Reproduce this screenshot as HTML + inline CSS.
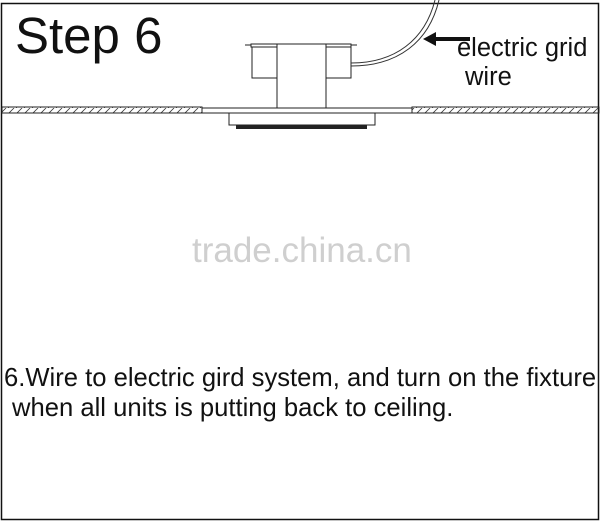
<!DOCTYPE html>
<html><head><style>
html,body{margin:0;padding:0;background:#fff;}
body{width:603px;height:525px;overflow:hidden;position:relative;font-family:"Liberation Sans",Arial,sans-serif;}
.t{position:absolute;white-space:nowrap;color:#111;transform-origin:0 0;}
</style></head><body>
<svg width="603" height="525" style="position:absolute;left:0;top:0">
<defs>
<pattern id="h" width="8" height="6" patternUnits="userSpaceOnUse">
<line x1="0" y1="6" x2="6" y2="0" stroke="#333" stroke-width="0.8"/>
</pattern>
</defs>
<rect x="1.5" y="3.5" width="597" height="516" fill="none" stroke="#111" stroke-width="1.5"/>
<line x1="1" y1="113" x2="599" y2="113" stroke="#111" stroke-width="1"/>
<rect x="2" y="107" width="200" height="6" fill="url(#h)" stroke="#222" stroke-width="1"/>
<rect x="412" y="107" width="187" height="6" fill="url(#h)" stroke="#222" stroke-width="1"/>
<rect x="202" y="108" width="210" height="5" fill="#fff" stroke="#222" stroke-width="1"/>
<rect x="229" y="113" width="146" height="12" fill="#fff" stroke="#222" stroke-width="1"/>
<rect x="236" y="125" width="131" height="4" fill="#222"/>
<line x1="245" y1="45" x2="357" y2="45" stroke="#222" stroke-width="1"/>
<rect x="251" y="44" width="100" height="3" fill="#fff" stroke="#222" stroke-width="1"/>
<rect x="252" y="47" width="25" height="31" fill="#fff" stroke="#222" stroke-width="1"/>
<rect x="326" y="47" width="25" height="31" fill="#fff" stroke="#222" stroke-width="1"/>
<rect x="277" y="44" width="49" height="64" fill="#fff" stroke="#222" stroke-width="1"/>
<path d="M351 63 C395 63 425 40 435 0" fill="none" stroke="#333" stroke-width="1"/>
<path d="M351 66 C398 66 429 42 439 0" fill="none" stroke="#333" stroke-width="1"/>
<line x1="432" y1="39" x2="470" y2="39" stroke="#111" stroke-width="4"/>
<polygon points="423,39 436,32 436,46" fill="#111"/>
</svg>
<div class="t" style="left:15px;top:6px;font-size:51px;">Step 6</div>
<div class="t" style="left:457px;top:34px;font-size:25.5px;">electric grid</div>
<div class="t" style="left:465px;top:63px;font-size:25.5px;">wire</div>
<div class="t" style="left:192px;top:231px;font-size:35px;color:#cfcfcf;">trade.china.cn</div>
<div class="t" style="left:4px;top:362px;font-size:26px;transform:scaleX(0.985);">6.Wire to electric gird system, and turn on the fixture</div>
<div class="t" style="left:12px;top:392px;font-size:26px;transform:scaleX(0.985);">when all units is putting back to ceiling.</div>
</body></html>
